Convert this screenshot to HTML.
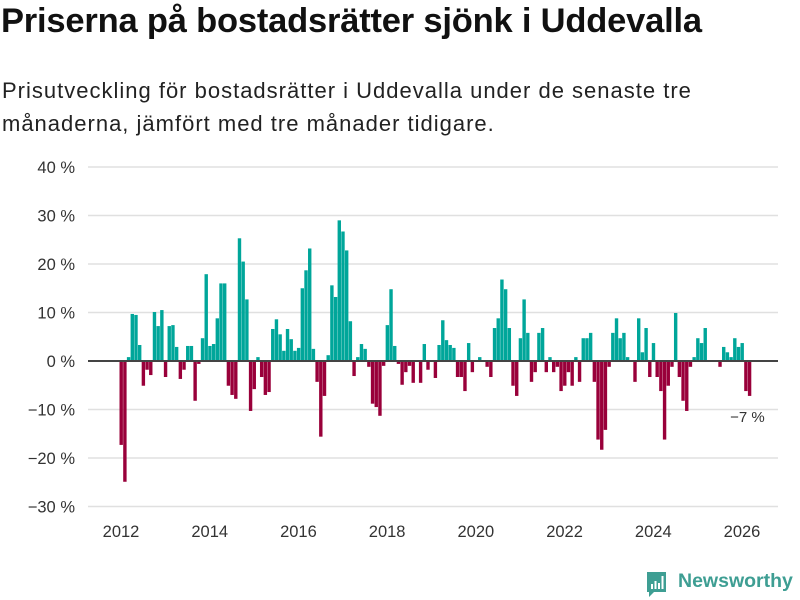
<!DOCTYPE html>
<html><head><meta charset="utf-8">
<style>
body{margin:0;background:#fff;font-family:"Liberation Sans","DejaVu Sans",sans-serif;}
#wrap{position:relative;width:800px;height:600px;overflow:hidden;}
h1{position:absolute;left:1px;top:2px;margin:0;font-size:34.5px;font-weight:bold;color:#111;letter-spacing:-0.2px;white-space:nowrap;}
.sub{position:absolute;left:2px;top:74px;margin:0;font-size:22px;letter-spacing:1px;line-height:33px;color:#222;width:720px;}
</style></head>
<body><div id="wrap">
<h1>Priserna på bostadsrätter sjönk i Uddevalla</h1>
<p class="sub">Prisutveckling för bostadsrätter i Uddevalla under de senaste tre<br>månaderna, jämfört med tre månader tidigare.</p>
<svg id="chart" width="800" height="600" style="position:absolute;left:0;top:0"></svg>
</div>
<script>
const yTicks=[40,30,20,10,0,-10,-20,-30];
const yTickLabels=["40 %","30 %","20 %","10 %","0 %","−10 %","−20 %","−30 %"];
const xYears=[2012,2014,2016,2018,2020,2022,2024,2026];
const startYear=2012;
const values=[-17.3,-24.9,0.8,9.7,9.5,3.3,-5.1,-1.8,-2.9,10.1,7.2,10.5,
-3.3,7.2,7.4,2.9,-3.7,-1.8,3.1,3.1,-8.2,-0.6,4.7,17.9,
3.1,3.5,8.8,16,16,-5.1,-7,-7.8,25.3,20.5,12.7,-10.3,
-5.8,0.8,-3.3,-7,-6.4,6.6,8.6,5.5,2.1,6.6,4.5,2.1,
2.7,15,18.7,23.2,2.5,-4.3,-15.6,-7.2,1.2,15.6,13.2,29,
26.7,22.8,8.2,-3.1,0.8,3.5,2.5,-1.2,-8.8,-9.5,-11.3,-1,
7.4,14.8,3.1,-0.6,-4.9,-2.3,-1,-4.5,0,-4.5,3.5,-1.8,
0.2,-3.5,3.3,8.4,4.3,3.3,2.7,-3.3,-3.3,-6.2,3.7,-2.3,
0,0.8,0,-1.2,-3.3,6.8,8.8,16.8,14.8,6.8,-5.1,-7.2,
4.7,12.7,5.8,-4.3,-2.3,5.8,6.8,-2.3,0.8,-2.3,-1.2,-6.2,
-5.1,-2.3,-5.1,0.8,-4.3,4.7,4.7,5.8,-4.3,-16.2,-18.3,-14.2,
-1.2,5.8,8.8,4.7,5.8,0.8,0,-4.3,8.8,1.8,6.8,-3.3,
3.7,-3.3,-6.2,-16.2,-5.1,-1.2,9.9,-3.3,-8.2,-10.3,-1.2,0.8,
4.7,3.7,6.8,0,0,0,-1.2,2.9,1.8,0.8,4.7,2.9,
3.7,-6.2,-7.2];
const lastLabel="−7 %";

const svg=document.getElementById('chart');
const NS="http://www.w3.org/2000/svg";
const y0px=361, y40px=167;
function yScale(v){return y0px-(v/40)*(y0px-y40px);}
const x2012=121, x2026=742;
function xScale(i){return x2012+i*(x2026-x2012)/168;}
function mk(tag,attrs){const e=document.createElementNS(NS,tag);for(const k in attrs)e.setAttribute(k,attrs[k]);svg.appendChild(e);return e;}

yTicks.forEach((t,k)=>{
  if(t!==0){const g=mk('line',{x1:88,x2:778,y1:yScale(t),y2:yScale(t),stroke:'#e0e0e0','stroke-width':1.5});
  
  }
  const tx=mk('text',{x:75,y:yScale(t)+6,'text-anchor':'end','font-size':16.5,fill:'#333','font-family':'Liberation Sans, sans-serif'});
  tx.textContent=yTickLabels[k];
  
  
});
xYears.forEach(yr=>{
  const i=(yr-startYear)*12;
  const tx=mk('text',{x:xScale(i),y:537,'text-anchor':'middle','font-size':16.5,fill:'#333','font-family':'Liberation Sans, sans-serif'});
  tx.textContent=yr;
  
  
});
values.forEach((v,i)=>{
  if(v===0)return;
  const yv=yScale(v);
  const r=mk('rect',{x:xScale(i)-1.5,width:3.4,y:Math.min(yv,y0px),height:Math.abs(yv-y0px),fill:v>0?'#00a69a':'#99003a'});
  
  
});
const zl=mk('line',{x1:88,x2:778,y1:y0px,y2:y0px,stroke:'#444','stroke-width':2});


const li=values.length-1;
const ll=mk('text',{x:xScale(li)-2,y:yScale(values[li])+26,'text-anchor':'middle','font-size':15,fill:'#333','font-family':'Liberation Sans, sans-serif'});
ll.textContent=lastLabel;


</script>
<div style="position:absolute;left:645px;top:570px;height:28px;">
<svg width="24" height="30" style="position:absolute;left:0;top:0">
<path d="M2 2 H21 V22 H9 L4 27 V22 H2 Z" fill="#3e9e93"/>
<rect x="6" y="14" width="2" height="5" fill="#fff"/><rect x="9.5" y="11" width="2" height="8" fill="#fff"/><rect x="13" y="13" width="2" height="6" fill="#fff"/><rect x="16.5" y="6" width="2" height="13" fill="#fff"/>
</svg>
<span style="position:absolute;left:33px;top:0px;font-size:19.5px;font-weight:bold;color:#3e9e93;white-space:nowrap;">Newsworthy</span>
</div>
</body></html>
